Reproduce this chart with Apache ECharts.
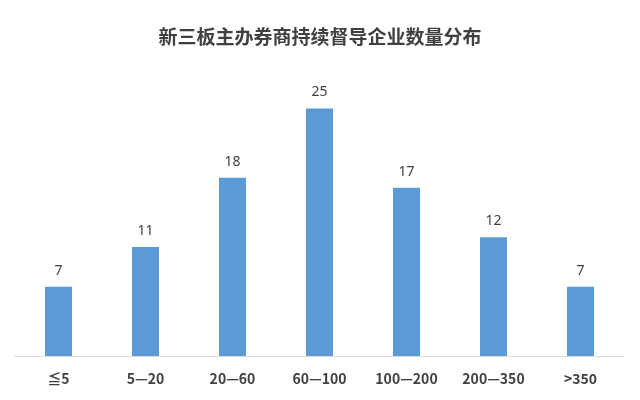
<!DOCTYPE html>
<html><head><meta charset="utf-8">
<script src="https://cdn.jsdelivr.net/npm/echarts@6/dist/echarts.min.js"></script>
<style>html,body{margin:0;padding:0;background:#fff}#c{width:640px;height:400px}</style>
</head><body><div id="c"></div>
<script>
const title = '新三板主办券商持续督导企业数量分布';
const categories = ['≦5', '5—20', '20—60', '60—100', '100—200', '200—350', '>350'];
const values = [7, 11, 18, 25, 17, 12, 7];

const chart = echarts.init(document.getElementById('c'));
chart.setOption({
  backgroundColor: '#ffffff',
  title: {
    text: title, left: 'center', top: 22,
    textStyle: { fontFamily: 'Noto Sans CJK SC', fontSize: 19, fontWeight: 'bold', color: '#404040' }
  },
  grid: { left: 15, right: 16, top: 59, bottom: 44 },
  xAxis: {
    type: 'category', data: categories,
    axisLine: { lineStyle: { color: '#d9d9d9', width: 1 } },
    axisTick: { show: false },
    axisLabel: { color: '#404040', fontSize: 14, fontWeight: 'bold', margin: 16, fontFamily: 'Noto Sans CJK SC' }
  },
  yAxis: { type: 'value', min: 0, max: 30, show: false, splitLine: { show: false } },
  series: [{
    type: 'bar', data: values, barWidth: 27,
    itemStyle: { color: '#5B9BD5' },
    label: { show: true, position: 'top', color: '#404040', fontSize: 14, distance: 9, fontFamily: 'Noto Sans' }
  }]
});
</script></body></html>
